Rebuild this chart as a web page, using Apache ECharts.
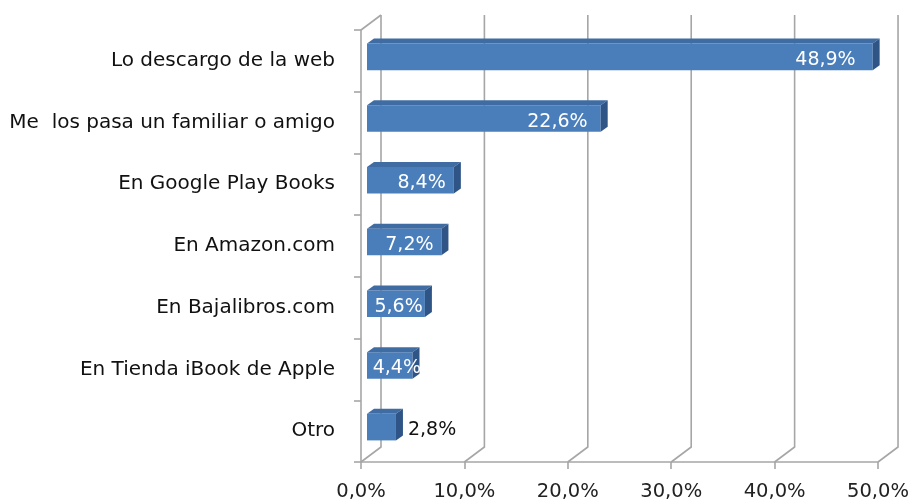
<!DOCTYPE html>
<html>
<head>
<meta charset="utf-8">
<script src="https://cdn.jsdelivr.net/npm/echarts@6/dist/echarts.min.js"></script>
<style>
html,body{margin:0;padding:0;background:#fff;}
#main{width:912px;height:504px;}
</style>
</head>
<body>
<div id="main"></div>
<script>
var categories = ['Lo descargo de la web', 'Me  los pasa un familiar o amigo', 'En Google Play Books', 'En Amazon.com', 'En Bajalibros.com', 'En Tienda iBook de Apple', 'Otro'];
var values = [48.9, 22.6, 8.4, 7.2, 5.6, 4.4, 2.8];
var ticks = [0, 10, 20, 30, 40, 50];

var FONT = 'DejaVu Sans';
var GRID_COL = '#a6a6a6';
var DEPTH = [20, -15];   // depth of the back wall
var BAR_D = [7, -5];     // depth of the bars

function fmt(v) {
    return v.toFixed(1).replace('.', ',') + '%';
}

window.onload = function () {
    var chart = echarts.init(document.getElementById('main'), null, {renderer: 'canvas'});

    var wallData = ticks.map(function (t) { return [t, 0]; });
    var barData = values.map(function (v, i) { return [v, i]; });

    var option = {
        animation: false,
        backgroundColor: '#fff',
        grid: {left: 361, top: 30, width: 519, height: 432},
        xAxis: {
            type: 'value',
            min: 0, max: 50, interval: 10,
            axisLine: {show: true, lineStyle: {color: GRID_COL, width: 1.6}},
            axisTick: {show: true, length: 7, lineStyle: {color: GRID_COL, width: 1.6}},
            splitLine: {show: false},
            axisLabel: {
                margin: 20,
                fontFamily: FONT, fontSize: 19.5, color: '#222',
                formatter: function (v) { return fmt(v); }
            }
        },
        yAxis: {
            type: 'category',
            inverse: true,
            data: categories,
            axisLine: {show: true, lineStyle: {color: GRID_COL, width: 1.6}},
            axisTick: {show: true, length: 7, lineStyle: {color: GRID_COL, width: 1.6}},
            axisLabel: {margin: 26, fontFamily: FONT, fontSize: 20, color: '#111', padding: [12, 0, 0, 0]}
        },
        series: [
            {
                // back wall grid lines and floor edges
                type: 'custom',
                clip: false,
                z: 1,
                silent: true,
                data: wallData,
                encode: {x: 0, y: 1},
                renderItem: function (params, api) {
                    var cs = params.coordSys;
                    var x = api.coord([api.value(0), 0])[0];
                    var bottom = cs.y + cs.height;
                    var style = {stroke: GRID_COL, lineWidth: 1.6, fill: null};
                    var children = [
                        {type: 'polyline', shape: {points: [
                            [x, bottom],
                            [x + DEPTH[0], bottom + DEPTH[1]],
                            [x + DEPTH[0], cs.y + DEPTH[1]]
                        ]}, style: style}
                    ];
                    if (params.dataIndex === 0) {
                        children.push({type: 'line', shape: {
                            x1: x, y1: cs.y, x2: x + DEPTH[0], y2: cs.y + DEPTH[1]
                        }, style: style});
                    }
                    return {type: 'group', children: children};
                }
            },
            {
                // 3d bars
                type: 'custom',
                clip: false,
                z: 3,
                data: barData,
                encode: {x: 0, y: 1},
                renderItem: function (params, api) {
                    var val = api.value(0);
                    var idx = api.value(1);
                    var c0 = api.coord([0, idx]);
                    var c1 = api.coord([val, idx]);
                    var band = api.size([0, 1])[1];
                    var h = band * 0.43;
                    var cy = c0[1] - 4;
                    var x0 = c0[0] + 6;
                    var x1 = c1[0] + 6;
                    var t = cy - h / 2, b = cy + h / 2;
                    var dx = BAR_D[0], dy = BAR_D[1];
                    var children = [
                        {type: 'rect', shape: {x: x0, y: t, width: x1 - x0, height: h},
                            style: {fill: '#4a7ebb'}},
                        {type: 'polygon', shape: {points: [[x0, t], [x1, t], [x1 + dx, t + dy], [x0 + dx, t + dy]]},
                            style: {fill: '#3f6ca3'}},
                        {type: 'polygon', shape: {points: [[x1, t], [x1 + dx, t + dy], [x1 + dx, b + dy], [x1, b]]},
                            style: {fill: '#2f5587'}}
                    ];
                    var label;
                    if (val < 4) {
                        label = {x: x1 + dx + 5, y: cy + 3, text: fmt(val), align: 'left', fill: '#111'};
                    } else {
                        var pad = val < 8 ? Math.max(0, (val - 5) * 3.6) : Math.min(17, 8 + (val - 8) * 0.35);
                        var right = Math.max(x1 - pad, x0 + 4 + 50);
                        label = {x: right, y: cy + 3, text: fmt(val), align: 'right', fill: '#fff'};
                    }
                    children.push({
                        type: 'text', z2: 10,
                        style: {
                            x: label.x, y: label.y, text: label.text,
                            fill: label.fill, align: label.align, verticalAlign: 'middle',
                            fontFamily: FONT, fontSize: 19
                        }
                    });
                    return {type: 'group', children: children};
                }
            }
        ]
    };
    chart.setOption(option);
};
</script>
</body>
</html>
